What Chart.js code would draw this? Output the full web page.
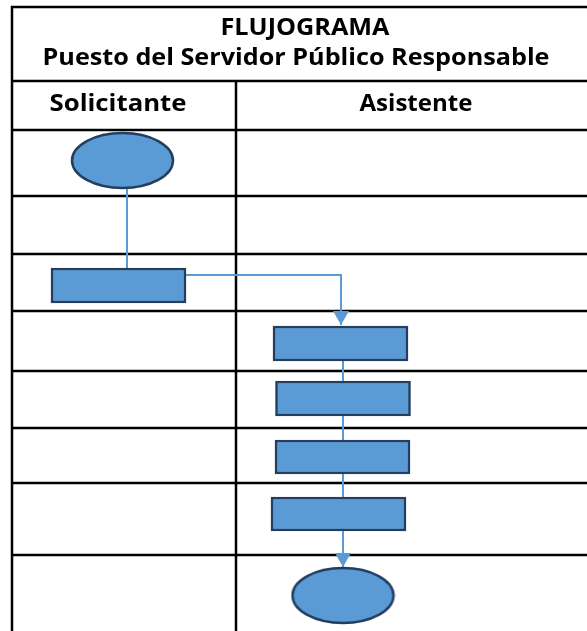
<!DOCTYPE html>
<html>
<head>
<meta charset="utf-8">
<script src="https://cdn.jsdelivr.net/npm/chart.js@4/dist/chart.umd.min.js"></script>
<style>
  html, body { margin: 0; padding: 0; background: #fff; }
  #wrap { width: 587px; height: 631px; }
</style>
</head>
<body>
<div id="wrap"><canvas id="flow" width="587" height="631"></canvas></div>
<script>
// texts
const titleLines = ['FLUJOGRAMA', 'Puesto del Servidor Público Responsable'];
const lanes = ['Solicitante', 'Asistente'];

// table grid (same units as the page, 0..587 / 0..631)
const rowEdges = [7, 81, 130, 196, 254, 311, 371, 428, 483, 555];
const colEdges = [12, 236, 587];

// process boxes
const boxX = [118.5, 340.5, 343, 342.5, 338.5];
const boxTop = [268, 326, 381, 440, 497];
const boxBottom = [303, 361, 416, 474, 531];

// start / end ellipses
const termX = [122.5, 343];
const termY = [160.5, 595.5];

// connectors
const link1X = [127, 127];
const link1Y = [188, 268];
const link2X = [186, 341, 341];
const link2Y = [275, 275, 325];
const link3X = [343, 343];
const link3Y = [361, 567];

const FILL = '#5b9bd5';
const EDGE = '#233f60';

function makeEllipse(w, h) {
    const c = document.createElement('canvas');
    c.width = w + 4;
    c.height = h + 4;
    const g = c.getContext('2d');
    g.beginPath();
    g.ellipse(c.width / 2, c.height / 2, w / 2, h / 2, 0, 0, Math.PI * 2);
    g.fillStyle = FILL;
    g.fill();
    g.lineWidth = 2.5;
    g.strokeStyle = EDGE;
    g.stroke();
    return c;
}

function tableData() {
    const pts = [];
    rowEdges.forEach(y => {
        pts.push({ x: colEdges[0], y: y }, { x: colEdges[2], y: y }, { x: colEdges[2], y: null });
    });
    pts.push({ x: colEdges[0], y: rowEdges[0] }, { x: colEdges[0], y: 631 }, { x: colEdges[0], y: null });
    pts.push({ x: colEdges[1], y: rowEdges[1] }, { x: colEdges[1], y: 631 });
    return pts;
}

const zip = (xs, ys) => xs.map((x, i) => ({ x: x, y: ys[i] }));

function linkSet(xs, ys, arrow) {
    return {
        type: 'line',
        data: zip(xs, ys),
        showLine: true,
        borderColor: FILL,
        borderWidth: 2,
        pointRadius: 0,
        tension: 0,
        arrow: arrow,
        order: 3,
    };
}

const arrowPlugin = {
    id: 'arrows',
    afterDatasetsDraw(chart) {
        const { ctx } = chart;
        chart.data.datasets.forEach((ds, i) => {
            if (!ds.arrow) return;
            const pts = chart.getDatasetMeta(i).data;
            const a = pts[pts.length - 2], b = pts[pts.length - 1];
            const ang = Math.atan2(b.y - a.y, b.x - a.x);
            const len = 14, half = 8;
            ctx.save();
            ctx.translate(b.x, b.y);
            ctx.rotate(ang);
            ctx.beginPath();
            ctx.moveTo(0, 0);
            ctx.lineTo(-len, -half);
            ctx.lineTo(-len, half);
            ctx.closePath();
            ctx.fillStyle = FILL;
            ctx.fill();
            ctx.restore();
        });
    },
};

const textPlugin = {
    id: 'tableText',
    afterDraw(chart) {
        const { ctx, scales: { x, y } } = chart;
        const put = (txt, cx, base, width) => {
            ctx.save();
            ctx.font = 'bold 22.5px "Open Sans"';
            const w = ctx.measureText(txt).width;
            ctx.translate(x.getPixelForValue(cx), y.getPixelForValue(base));
            ctx.scale(width / w, 1);
            ctx.textAlign = 'center';
            ctx.textBaseline = 'alphabetic';
            ctx.fillStyle = '#000';
            ctx.fillText(txt, 0, 0);
            ctx.restore();
        };
        put(titleLines[0], 305, 35, 169);
        put(titleLines[1], 296, 65, 507);
        put(lanes[0], 118, 111, 137);
        put(lanes[1], 416, 111, 113);
    },
};

new Chart(document.getElementById('flow'), {
    type: 'scatter',
    data: {
        datasets: [
            {
                type: 'scatter',
                data: zip(termX, termY),
                pointStyle: makeEllipse(101, 55),
                order: 1,
            },
            {
                type: 'bar',
                data: boxX.map((bx, i) => ({ x: bx, y: [boxTop[i], boxBottom[i]] })),
                backgroundColor: FILL,
                borderColor: EDGE,
                borderWidth: 2.5,
                borderSkipped: false,
                barThickness: 135,
                order: 2,
            },
            linkSet(link1X, link1Y, false),
            linkSet(link2X, link2Y, true),
            linkSet(link3X, link3Y, true),
            {
                type: 'line',
                data: tableData(),
                showLine: true,
                spanGaps: false,
                borderColor: '#000',
                borderWidth: 2.5,
                borderCapStyle: 'square',
                pointRadius: 0,
                tension: 0,
                order: 4,
            },
        ],
    },
    options: {
        responsive: false,
        animation: false,
        layout: { padding: 0, autoPadding: false },
        scales: {
            x: { type: 'linear', min: 0, max: 587, offset: false, display: false },
            y: { type: 'linear', min: 0, max: 631, reverse: true, display: false },
        },
        plugins: {
            legend: { display: false },
            tooltip: { enabled: false },
        },
        events: [],
    },
    plugins: [arrowPlugin, textPlugin],
});
</script>
</body>
</html>
